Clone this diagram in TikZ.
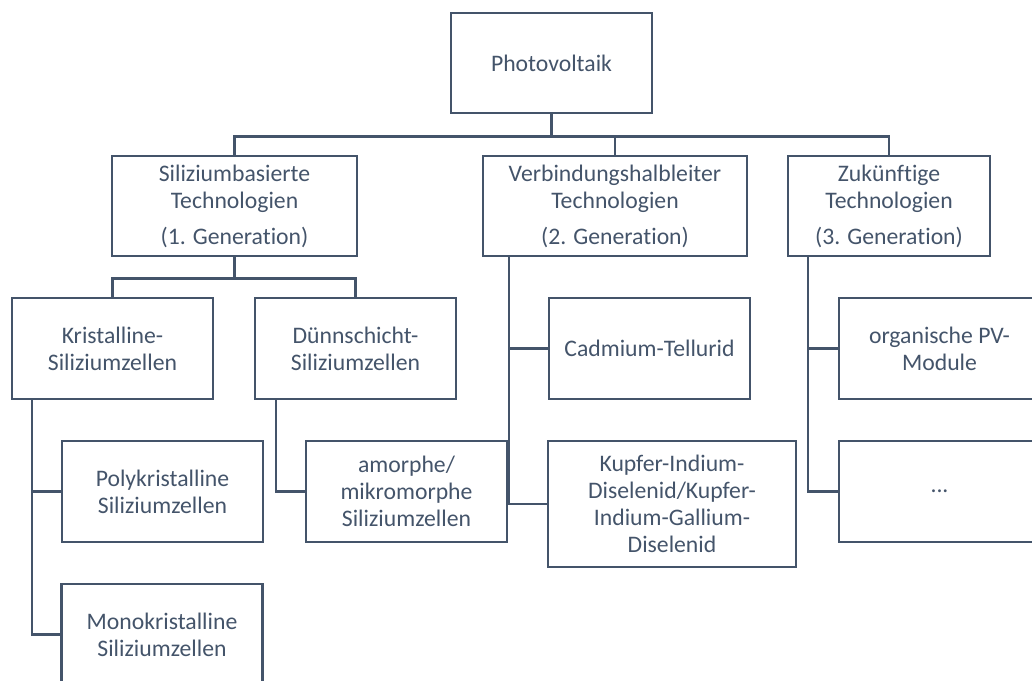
\documentclass[tikz,border=0pt]{standalone}
\usepackage{fontspec}
\setmainfont[Ligatures=CommonOff]{Carlito}
\usetikzlibrary{calc}
\definecolor{ink}{HTML}{44546A}
\tikzset{
    box/.style={draw=ink, line width=2.5pt, text=ink, align=center,
        inner sep=2pt, minimum width=201pt, minimum height=101pt},
    link/.style={draw=ink, line width=2.5pt}
}
\begin{document}
\begin{tikzpicture}[x=1pt,y=-1pt,font=\fontsize{23.7}{27}\selectfont]
                \useasboundingbox (0,0) rectangle (1032,680);
                \clip (0,0) rectangle (1032,680);
                %boxes
                \node[box, minimum height=100pt] (pv) at (551.5,63) {Photovoltaik};
                \node[box, minimum width=245pt, minimum height=100pt] (sil) at (234.5,206)
                    {Siliziumbasierte\\Technologien\\[9pt](1. Generation)};
                \node[box, minimum width=264pt, minimum height=100pt] (verb) at (615,206)
                    {Verbindungshalbleiter\\Technologien\\[9pt](2. Generation)};
                \node[box, minimum width=202pt, minimum height=100pt] (zuk) at (889,206)
                    {Zukünftige\\Technologien\\[9pt](3. Generation)};
                \node[box] (kris) at (112.5,348.5) {Kristalline-\\Siliziumzellen};
                \node[box] (duenn) at (355.5,348.5) {Dünnschicht-\\Siliziumzellen};
                \node[box] (cdte) at (649.5,348.5) {Cadmium-Tellurid};
                \node[box] (org) at (939.5,348.5) {organische PV-\\Module};
                \node[box] (poly) at (162.5,491.5) {Polykristalline\\Siliziumzellen};
                \node[box] (amorph) at (406.5,491.5) {amorphe/\\mikromorphe\\Siliziumzellen};
                \node[box, minimum width=248pt, minimum height=126pt] (cigs) at (672,504)
                    {Kupfer-Indium-\\Diselenid/Kupfer-\\Indium-Gallium-\\Diselenid};
                \node[box] (dots) at (939.5,491.5) {...};
                \node[box] (mono) at (162,634.5) {Monokristalline\\Siliziumzellen};
                %bus lines
                \draw[link] (pv.south) -- ++(0,22) coordinate (top bus);
                    \foreach \n in {sil,verb,zuk}
                        \draw[link] (top bus) -| (\n.north);
                \draw[link] (sil.south) -- ++(0,21) coordinate (sil bus);
                    \foreach \n in {kris,duenn}
                        \draw[link] (sil bus) -| (\n.north);
                %stems
                \coordinate (kris stem) at ($(kris.south west)+(21,0)$);
                \coordinate (duenn stem) at ($(duenn.south west)+(22,0)$);
                \coordinate (verb stem) at ($(verb.south west)+(27,0)$);
                \coordinate (zuk stem) at ($(zuk.south west)+(21,0)$);
                \draw[link] (kris stem) |- (mono.west);
                \draw[link] (kris stem |- poly.west) -- (poly.west);
                \draw[link] (duenn stem) |- (amorph.west);
                \draw[link] (verb stem) |- (cigs.west);
                \draw[link] (verb stem |- cdte.west) -- (cdte.west);
                \draw[link] (zuk stem) |- (dots.west);
                \draw[link] (zuk stem |- org.west) -- (org.west);
            \end{tikzpicture}
\end{document}
